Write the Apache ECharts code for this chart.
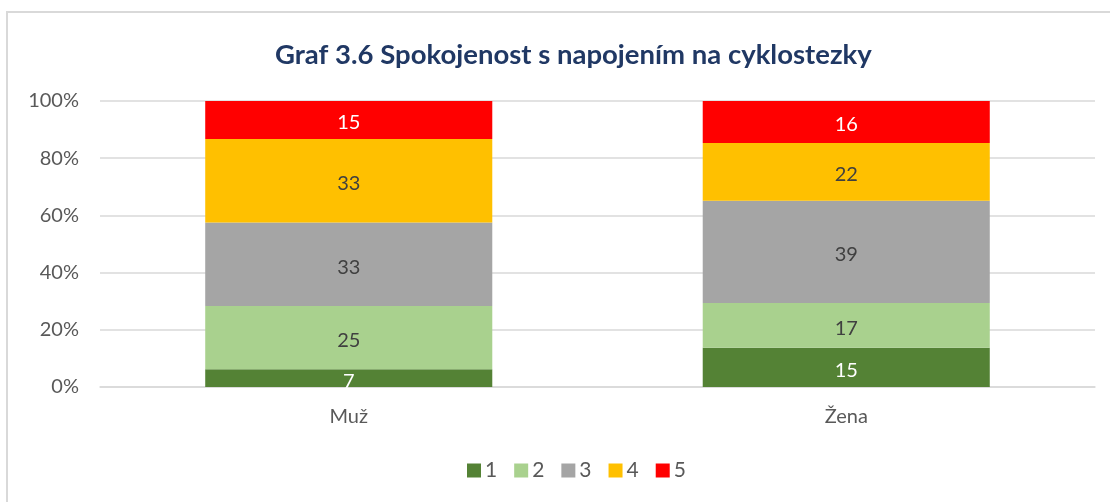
<!DOCTYPE html>
<html><head><meta charset="utf-8">
<script src="https://cdn.jsdelivr.net/npm/echarts@6/dist/echarts.min.js"></script>
<style>html,body{margin:0;padding:0;background:#fff}#c{width:1110px;height:502px}
#frame{position:absolute;left:6px;top:11px;width:1200px;height:600px;border-left:2px solid #d9d9d9;border-top:2px solid #d9d9d9;box-sizing:border-box;pointer-events:none}</style>
</head><body><div id="c"></div><div id="frame"></div>
<script>
const categories = ['Muž', 'Žena'];
const seriesNames = ['1', '2', '3', '4', '5'];
const s1 = [7, 15];
const s2 = [25, 17];
const s3 = [33, 39];
const s4 = [33, 22];
const s5 = [15, 16];
const yTicks = ['0%', '20%', '40%', '60%', '80%', '100%'];
const colors = ['#548235', '#A9D18E', '#A5A5A5', '#FFC000', '#FF0000'];
const labelColors = ['#ffffff', '#404040', '#404040', '#404040', '#ffffff'];

const raw = [s1, s2, s3, s4, s5];
const totals = categories.map((_, i) => raw.reduce((a, s) => a + s[i], 0));
const font = 'Lato, Carlito, "Open Sans", sans-serif';

const chart = echarts.init(document.getElementById('c'));
chart.setOption({
  animation: false,
  title: {
    text: 'Graf 3.6 Spokojenost s napojením na cyklostezky',
    left: 270, top: 36,
    textStyle: { fontFamily: font, fontSize: 27.5, fontWeight: 'bold', color: '#203864' }
  },
  grid: { left: 100, right: 15, top: 101, bottom: 115, containLabel: false },
  legend: {
    bottom: 16, left: 462, itemWidth: 14, itemHeight: 14, itemGap: 17,
    icon: 'rect',
    textStyle: { fontFamily: font, fontSize: 21, color: '#595959', padding: [0, 0, 0, -1] },
    data: seriesNames
  },
  xAxis: {
    type: 'category', data: categories,
    axisLine: { lineStyle: { color: '#d9d9d9', width: 1.5 } },
    axisTick: { show: false },
    axisLabel: { fontFamily: font, fontSize: 20, color: '#595959', margin: 20 }
  },
  yAxis: {
    type: 'value', min: 0, max: 1, interval: 0.2,
    axisLine: { show: false }, axisTick: { show: false },
    splitLine: { lineStyle: { color: '#d9d9d9', width: 1.5 } },
    axisLabel: {
      fontFamily: font, fontSize: 20, color: '#595959', margin: 21,
      formatter: (v) => yTicks[Math.round(v * 5)]
    }
  },
  series: raw.map((s, k) => ({
    name: seriesNames[k], type: 'bar', stack: 'total', barWidth: '57.7%',
    itemStyle: { color: colors[k] },
    label: {
      show: true, position: 'inside', fontFamily: font, fontSize: 20,
      color: labelColors[k], offset: [0, 3],
      formatter: (p) => String(s[p.dataIndex])
    },
    data: s.map((v, i) => v / totals[i])
  }))
});
</script></body></html>
